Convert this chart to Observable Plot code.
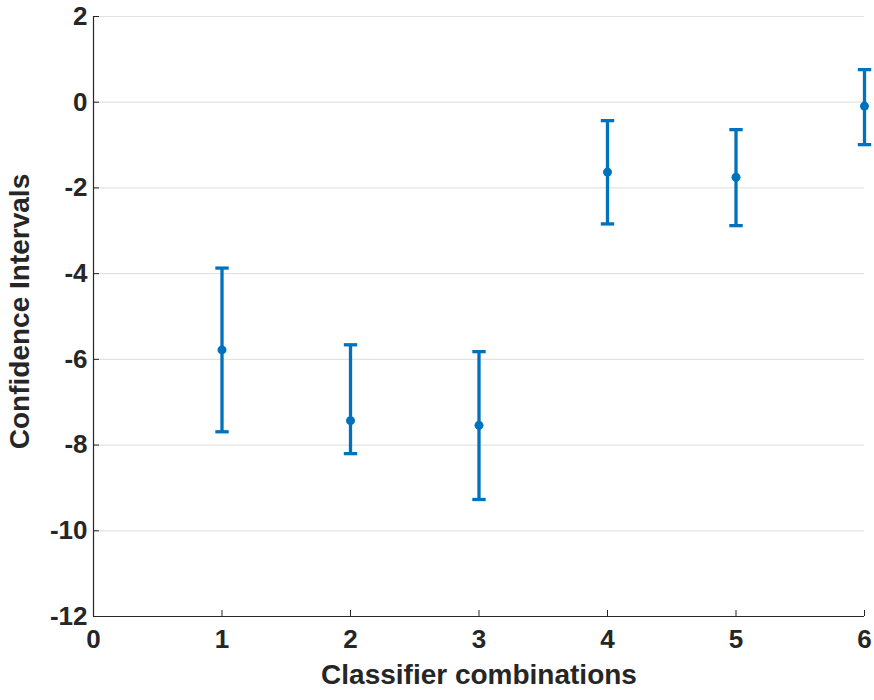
<!DOCTYPE html>
<html><head><meta charset="utf-8">
<script src="https://cdn.jsdelivr.net/npm/d3@7"></script>
<script src="https://cdn.jsdelivr.net/npm/@observablehq/plot@0.6"></script>
<style>
body{margin:0;background:#fff;}
svg{font-family:"Liberation Sans",Arial,sans-serif;}
</style>
</head><body><div id="chart"></div>
<script>
const combos = [1, 2, 3, 4, 5, 6];
const means  = [-5.78, -7.43, -7.54, -1.63, -1.75, -0.09];
const lowers = [-7.69, -8.20, -9.27, -2.84, -2.88, -0.99];
const uppers = [-3.87, -5.66, -5.82, -0.43, -0.64, 0.76];
const xTicks = [0, 1, 2, 3, 4, 5, 6];
const yTicks = [-12, -10, -8, -6, -4, -2, 0, 2];
const xLabel = "Classifier combinations";
const yLabel = "Confidence Intervals";

const data = combos.map((c, i) => ({x: c, y: means[i], lo: lowers[i], hi: uppers[i]}));
const blue = "#0072BD";
const axisColor = "#262626";
const textColor = "#262626";
const capSymbol = {draw(ctx, size){ const r = Math.sqrt(size / Math.PI); ctx.moveTo(-r, 0); ctx.lineTo(r, 0); }};
const fmt = d => String(d);

const chart = Plot.plot({
  width: 874, height: 700,
  marginLeft: 93, marginRight: 10, marginTop: 16, marginBottom: 84,
  style: {fontFamily: '"Liberation Sans", Arial, sans-serif', fontWeight: "bold", color: textColor, background: "#fff"},
  x: {domain: [0, 6]},
  y: {domain: [-12, 2]},
  marks: [
    Plot.gridY(yTicks, {stroke: "#e3e3e3", strokeOpacity: 1, strokeWidth: 1.2}),
    Plot.axisX(xTicks, {tickSize: -6, tickPadding: 19, stroke: axisColor, fill: textColor, fontSize: 26, fontWeight: "bold",
      tickFormat: fmt, label: null}),
    Plot.axisY(yTicks, {tickSize: -6, tickPadding: 12, stroke: axisColor, fill: textColor, fontSize: 26, fontWeight: "bold",
      tickFormat: fmt, label: null}),
    Plot.ruleY([-12], {stroke: axisColor, strokeWidth: 1.2}),
    Plot.ruleX([0], {stroke: axisColor, strokeWidth: 1.2}),
    Plot.text([xLabel], {text: d => d, frameAnchor: "bottom", dy: 67, fontSize: 28, fontWeight: "bold", fill: textColor}),
    Plot.text([yLabel], {text: d => d, frameAnchor: "left", dx: -73, dy: -5, rotate: -90, textAnchor: "middle", fontSize: 28, fontWeight: "bold", fill: textColor}),
    Plot.ruleX(data, {x: "x", y1: "lo", y2: "hi", stroke: blue, strokeWidth: 3.3}),
    Plot.dot(data, {x: "x", y: "lo", symbol: capSymbol, r: 6.7, stroke: blue, strokeWidth: 3.3, fill: "none"}),
    Plot.dot(data, {x: "x", y: "hi", symbol: capSymbol, r: 6.7, stroke: blue, strokeWidth: 3.3, fill: "none"}),
    Plot.dot(data, {x: "x", y: "y", r: 4.5, fill: blue, stroke: "none"})
  ]
});
document.getElementById("chart").appendChild(chart);
</script>
</body></html>
